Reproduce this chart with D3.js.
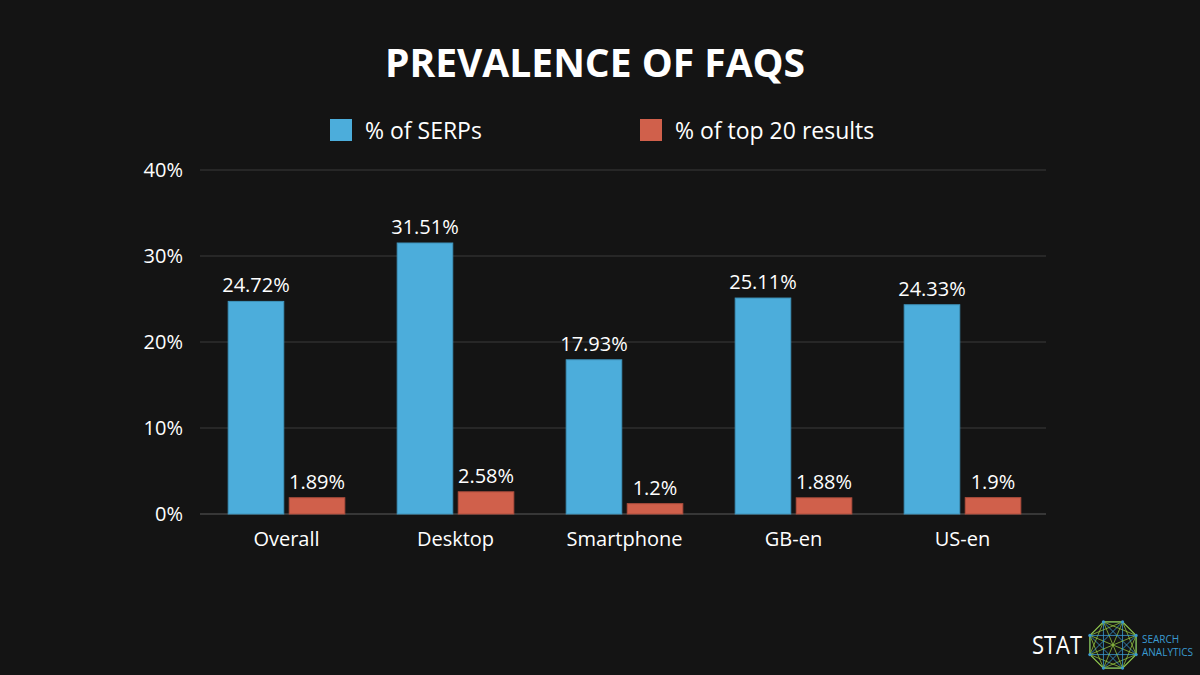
<!DOCTYPE html>
<html>
<head>
<meta charset="utf-8">
<script src="https://cdn.jsdelivr.net/npm/d3@7"></script>
<style>
  body { margin: 0; background: #141414; }
  text { font-family: "Open Sans", "Noto Sans", sans-serif; fill: #fff; }
</style>
</head>
<body>
<div class="chart"></div>
<script>
var categories = ["Overall", "Desktop", "Smartphone", "GB-en", "US-en"];
var serpValues = [24.72, 31.51, 17.93, 25.11, 24.33];
var top20Values = [1.89, 2.58, 1.2, 1.88, 1.9];
var seriesNames = ["% of SERPs", "% of top 20 results"];
var yTicks = [0, 10, 20, 30, 40];

var svgWidth = 1200;
var svgHeight = 675;
var margin = { top: 170, right: 154, bottom: 161, left: 200 };
var chartWidth = svgWidth - margin.left - margin.right;
var chartHeight = svgHeight - margin.top - margin.bottom;

var colors = ["#4caddb", "#d0604b"];
var strokes = ["#3f95bd", "#b04f3e"];

var svg = d3.select(".chart").append("svg")
  .attr("width", svgWidth)
  .attr("height", svgHeight);

svg.append("rect")
  .attr("width", svgWidth)
  .attr("height", svgHeight)
  .attr("fill", "#141414");

svg.append("text")
  .attr("x", svgWidth / 2 - 5)
  .attr("y", 77)
  .attr("text-anchor", "middle")
  .attr("font-size", 39)
  .attr("font-weight", 700)
  .text("PREVALENCE OF FAQS");

// legend
var legendX = [330, 640];
seriesNames.forEach(function(name, i) {
  svg.append("rect")
    .attr("x", legendX[i])
    .attr("y", 119)
    .attr("width", 22)
    .attr("height", 22)
    .attr("fill", colors[i]);
  svg.append("text")
    .attr("x", legendX[i] + 35)
    .attr("y", 139)
    .attr("font-size", 23)
    .text(name);
});

var chartGroup = svg.append("g")
  .attr("transform", `translate(${margin.left}, ${margin.top})`);

var x0 = d3.scaleBand()
  .domain(categories)
  .range([2, chartWidth + 1])
  .paddingInner(0.31)
  .paddingOuter(0.155);

var x1 = d3.scaleBand()
  .domain([0, 1])
  .range([0, x0.bandwidth()])
  .paddingInner(0.09);

var y = d3.scaleLinear()
  .domain([0, 40])
  .range([chartHeight, 0]);

// gridlines
chartGroup.selectAll(".grid")
  .data(yTicks)
  .enter()
  .append("line")
  .attr("x1", 0)
  .attr("x2", chartWidth)
  .attr("y1", d => y(d))
  .attr("y2", d => y(d))
  .attr("stroke", d => d === 0 ? "#5a5a5a" : "#3a3a3a")
  .attr("stroke-width", 1);

chartGroup.selectAll(".ytick")
  .data(yTicks)
  .enter()
  .append("text")
  .attr("x", -17)
  .attr("y", d => y(d) + 7)
  .attr("text-anchor", "end")
  .attr("font-size", 20)
  .text(d => d + "%");

var rows = categories.map(function(c, i) {
  return { cat: c, vals: [serpValues[i], top20Values[i]] };
});

var groups = chartGroup.selectAll(".group")
  .data(rows)
  .enter()
  .append("g")
  .attr("transform", d => `translate(${x0(d.cat)}, 0)`);

groups.selectAll("rect")
  .data(d => d.vals.map((v, i) => ({ v: v, i: i })))
  .enter()
  .append("rect")
  .attr("x", d => x1(d.i))
  .attr("y", d => y(d.v))
  .attr("width", x1.bandwidth())
  .attr("height", d => chartHeight - y(d.v))
  .attr("fill", d => colors[d.i])
  .attr("stroke", d => strokes[d.i])
  .attr("stroke-width", 1);

groups.selectAll(".val")
  .data(d => d.vals.map((v, i) => ({ v: v, i: i })))
  .enter()
  .append("text")
  .attr("x", d => x1(d.i) + x1.bandwidth() / 2)
  .attr("y", d => y(d.v) - 9)
  .attr("text-anchor", "middle")
  .attr("font-size", 20)
  .text(d => d.v + "%");

chartGroup.selectAll(".xlabel")
  .data(categories)
  .enter()
  .append("text")
  .attr("x", d => x0(d) + x0.bandwidth() / 2)
  .attr("y", chartHeight + 32)
  .attr("text-anchor", "middle")
  .attr("font-size", 20)
  .text(d => d);

// logo
var logo = svg.append("g").attr("transform", "translate(1032, 645)");
logo.append("text")
  .attr("x", 0)
  .attr("y", 9)
  .attr("font-size", 25)
  .attr("textLength", 50)
  .attr("lengthAdjust", "spacingAndGlyphs")
  .text("STAT");

var cx = 81, cy = 0, r = 25;
var pts = d3.range(8).map(function(k) {
  var a = Math.PI / 8 + k * Math.PI / 4;
  return [cx + r * Math.cos(a), cy + r * Math.sin(a)];
});
pts.forEach(function(p, i) {
  pts.forEach(function(q, j) {
    if (j > i) {
      logo.append("line")
        .attr("x1", p[0]).attr("y1", p[1])
        .attr("x2", q[0]).attr("y2", q[1])
        .attr("stroke", (i + j) % 2 ? "#3a9ad0" : "#8fc040")
        .attr("stroke-width", 0.8);
    }
  });
});
logo.append("polygon")
  .attr("points", pts.map(p => p.join(",")).join(" "))
  .attr("fill", "none")
  .attr("stroke", "#8fc040")
  .attr("stroke-width", 1.2);
logo.selectAll("circle")
  .data(pts)
  .enter()
  .append("circle")
  .attr("cx", d => d[0])
  .attr("cy", d => d[1])
  .attr("r", 1.6)
  .attr("fill", "#3a9ad0");

logo.append("text")
  .attr("x", 110)
  .attr("y", -2)
  .attr("font-size", 10)
  .style("fill", "#3a9ad0")
  .text("SEARCH");
logo.append("text")
  .attr("x", 110)
  .attr("y", 11)
  .attr("font-size", 10)
  .style("fill", "#3a9ad0")
  .text("ANALYTICS");
</script>
</body>
</html>
